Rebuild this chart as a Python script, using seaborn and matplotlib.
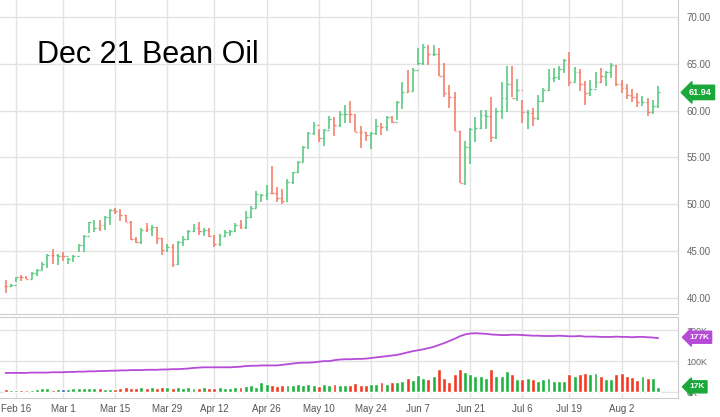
import numpy as np
import pandas as pd
import matplotlib
matplotlib.use("Agg")
import matplotlib.pyplot as plt
import seaborn as sns

# === Data ===
holidays = ["2021-02-15", "2021-04-02", "2021-05-31", "2021-07-05"]
dates = pd.bdate_range("2021-02-11", "2021-08-11").drop(pd.to_datetime(holidays))

close = [41.3, 41.4, 42.2, 42.2, 42.0, 42.7, 43.0, 43.6, 44.6, 44.6, 44.5,
         44.5, 44.2, 44.5, 45.7, 46.6, 48.1, 47.5, 47.8, 48.6, 49.4,
         49.3, 48.9, 48.1, 46.3, 46.0, 47.3, 47.4, 47.6, 46.4, 45.1,
         45.4, 43.6, 46.0, 46.3, 47.2, 47.5, 47.2, 47.3, 46.6, 45.8,
         46.6, 47.0, 47.2, 47.8, 47.6, 48.6, 49.6, 51.1, 51.0, 51.2,
         51.2, 50.7, 50.4, 52.4, 53.4, 54.5, 56.1, 57.6, 58.5, 57.1,
         57.9, 59.1, 58.5, 59.6, 59.6, 59.6, 57.7, 57.7, 57.4, 57.6,
         58.4, 58.2, 59.3, 58.8, 60.9, 62.0, 62.1, 64.3, 65.1, 66.8,
         66.0, 66.0, 63.7, 61.9, 61.4, 57.8, 52.3, 56.1, 58.0, 58.1,
         59.5, 59.4, 57.2, 60.0, 61.3, 62.8, 61.3, 62.2, 59.9, 59.7,
         59.2, 61.0, 62.2, 63.5, 63.6, 64.4, 65.4, 63.0, 64.1, 62.8,
         61.9, 62.3, 63.1, 63.7, 64.1, 64.9, 62.8, 62.4, 61.7, 61.5,
         60.9, 60.9, 59.9, 60.5, 61.94]
high = [41.9, 41.5, 42.2, 42.5, 42.4, 42.8, 43.1, 43.9, 44.7, 45.2, 44.7,
        44.9, 44.3, 44.6, 45.8, 46.7, 48.1, 48.3, 48.3, 48.8, 49.5,
        49.6, 49.5, 48.9, 48.2, 46.5, 47.5, 48.0, 47.8, 47.6, 46.4,
        45.8, 45.8, 46.1, 46.6, 47.3, 47.9, 48.1, 47.5, 47.5, 46.7,
        46.8, 47.3, 47.3, 48.0, 48.3, 49.3, 49.8, 51.4, 51.1, 52.1,
        54.1, 51.9, 51.6, 52.7, 53.5, 54.6, 56.2, 57.7, 58.8, 58.0,
        58.0, 59.4, 59.3, 60.0, 60.6, 61.0, 59.6, 58.4, 57.7, 57.7,
        59.1, 58.7, 59.4, 59.4, 61.0, 63.0, 64.3, 64.5, 66.7, 67.1,
        67.0, 67.0, 66.7, 65.1, 62.7, 62.0, 57.8, 56.8, 58.1, 59.3,
        60.1, 60.1, 61.4, 60.3, 63.0, 64.8, 64.8, 63.4, 61.1, 60.1,
        60.3, 61.7, 62.4, 64.4, 64.5, 64.8, 65.5, 66.3, 64.7, 64.4,
        63.2, 63.3, 64.1, 64.5, 64.2, 65.1, 64.9, 63.3, 62.8, 62.3,
        61.9, 61.6, 61.3, 61.1, 62.6]
low = [40.5, 41.2, 41.7, 41.8, 42.0, 42.0, 42.4, 43.0, 43.2, 43.6, 43.5,
       44.0, 43.6, 43.8, 44.9, 44.9, 46.9, 47.1, 47.2, 47.3, 47.8,
       49.0, 48.2, 48.1, 46.2, 45.9, 45.8, 47.0, 46.6, 45.8, 44.6,
       44.9, 43.3, 43.5, 45.6, 46.2, 47.0, 46.7, 46.6, 46.5, 45.5,
       45.6, 46.5, 46.6, 47.0, 47.4, 47.4, 48.5, 49.6, 50.2, 50.5,
       51.1, 50.2, 50.0, 50.2, 52.2, 53.3, 54.5, 55.9, 57.4, 56.6,
       56.2, 58.0, 57.3, 58.2, 58.7, 58.7, 57.7, 56.0, 56.8, 55.9,
       57.4, 57.4, 57.8, 58.7, 59.0, 60.2, 62.0, 62.1, 64.9, 64.9,
       64.9, 65.8, 63.7, 61.5, 60.3, 57.8, 52.3, 52.1, 54.3, 56.7,
       58.0, 58.0, 56.7, 57.0, 59.1, 59.9, 61.4, 61.0, 58.7, 58.0,
       58.4, 59.0, 60.9, 62.1, 63.0, 63.3, 64.0, 62.6, 63.0, 62.1,
       60.6, 61.6, 62.4, 62.9, 62.6, 63.5, 62.6, 61.9, 61.2, 60.9,
       60.4, 60.5, 59.4, 59.6, 60.3]
# G = up day, R = down day
direction = list("RGGRRGGGGRGRGGGGGGRGGRRRRRGRGRRGRGGGGRGRRGGGGRGGGGGRRRGGGGGGR"
                 "GGRGGRRRRGGRGRGGRGGGRGRRRRRGGGGGRGGGRGRGRGGGGGGRGRRGGRGGRRRRRGRGG")
# volume bar colours: first 79 days follow the price bars (one blue bar), then as read
vol_dir_late = list("GGRGRRRRRGGGGGRGGGRGRGRGGGGGGRGRRGGRGGRRRRRGRGG")
vol_dir = direction[:79] + vol_dir_late
vol_dir[11] = "B"
volume = [10, 7, 6, 6, 7, 8, 10, 12, 12, 8, 9,
          9, 10, 14, 14, 14, 14, 13, 12, 10, 10,
          11, 12, 16, 12, 14, 16, 13, 17, 12, 16,
          15, 13, 15, 12, 15, 14, 13, 16, 14, 13,
          15, 14, 13, 15, 18, 20, 22, 18, 34, 26,
          24, 20, 22, 24, 24, 26, 22, 27, 22, 20,
          26, 24, 25, 23, 22, 24, 30, 24, 24, 26,
          27, 32, 27, 32, 34, 36, 44, 38,
          55, 47, 41, 53, 74, 46, 31, 57, 74, 64,
          59, 53, 53, 46, 76, 53, 53, 68, 58, 42,
          42, 47, 42, 37, 42, 47, 37, 37, 37, 58,
          53, 58, 62, 58, 60, 53, 41, 41, 58, 60,
          53, 49, 39, 52, 47, 44, 16]
open_interest = [62, 62, 62, 62, 62, 63, 63, 63, 63, 64, 64,
                 64, 65, 65, 66, 66, 67, 67, 68, 68, 69,
                 69, 70, 70, 71, 71, 71, 72, 72, 72, 73,
                 73, 74, 74, 75, 76, 78, 79, 80, 80, 80,
                 80, 80, 80, 81, 82, 84, 85, 85, 86, 86,
                 86, 86, 88, 90, 92, 94, 95, 95, 96, 98,
                 100, 100, 103, 105, 106, 106, 107, 107, 108, 110,
                 112, 114, 116, 118, 120, 124, 128, 132, 135, 138,
                 142, 146, 152, 158, 165, 172, 180, 186, 189, 190,
                 189, 188, 186, 185, 184, 184, 185, 185, 184, 183,
                 182, 182, 181, 181, 181, 182, 181, 180, 180, 181,
                 179, 179, 179, 178, 178, 178, 179, 178, 178, 177,
                 178, 178, 177, 176, 174]
tick_dates = ["2021-02-16", "2021-03-01", "2021-03-15", "2021-03-29", "2021-04-12",
              "2021-04-26", "2021-05-10", "2021-05-24", "2021-06-07", "2021-06-21",
              "2021-07-06", "2021-07-19", "2021-08-02"]
tick_labels = ["Feb 16", "Mar 1", "Mar 15", "Mar 29", "Apr 12", "Apr 26", "May 10",
               "May 24", "Jun 7", "Jun 21", "Jul 6", "Jul 19", "Aug 2"]

df = pd.DataFrame({"date": dates, "close": close, "high": high, "low": low,
                   "dir": direction, "vdir": vol_dir, "volume": volume,
                   "oi": open_interest})
df["i"] = np.arange(len(df))
df["open"] = df["close"].shift(1).fillna(df["close"])
tick_pos = [df.index[df["date"] == pd.Timestamp(d)][0] for d in tick_dates]

# === Style ===
sns.set_style("white")
plt.rcParams["font.family"] = ["Liberation Sans", "DejaVu Sans"]
GRID = "#e3e3e3"
up_c, dn_c = "#5cc983", "#f3806e"
vcol = {"G": "#1fb340", "R": "#f23a22", "B": "#3050d0"}

fig = plt.figure(figsize=(7.2, 4.17), dpi=100)
ax = fig.add_axes([0, 0.247, 678 / 720, 0.753])
axv = fig.add_axes([0, 0.0456, 678 / 720, 0.194])
xlim = (-1.07, 128.8)

# === Price panel (OHLC bars) ===
colors = [up_c if d == "G" else dn_c for d in df["dir"]]
ax.vlines(df["i"], df["low"], df["high"], colors=colors, lw=1.2)
ax.hlines(df["open"], df["i"] - 0.35, df["i"], colors=colors, lw=1)
ax.hlines(df["close"], df["i"], df["i"] + 0.35, colors=colors, lw=1)
ax.set_xlim(*xlim)
ax.set_ylim(38.3, 71.8)
ax.set_yticks([40, 45, 50, 55, 60, 65, 70])
ax.set_xticks(tick_pos)
ax.set_xticklabels([])
ax.yaxis.tick_right()
ax.yaxis.set_major_formatter(matplotlib.ticker.FormatStrFormatter("%.2f"))
ax.tick_params(axis="y", length=0, pad=6, labelsize=7, labelcolor="#666666")
ax.tick_params(axis="x", length=0)
ax.grid(True, color=GRID, lw=1)
for s in ax.spines.values():
    s.set_color("#cccccc")
ax.spines["left"].set_visible(False)
ax.spines["top"].set_visible(False)

ax.text(0.055, 0.825, "Dec 21 Bean Oil", transform=ax.transAxes, fontsize=22,
        color="black", va="center")
ax.annotate(f"{close[-1]:.2f}", xy=(1.0, close[-1]), xycoords=("axes fraction", "data"),
            xytext=(8, 0), textcoords="offset points", va="center", ha="left",
            fontsize=6.5, color="white", fontweight="bold", annotation_clip=False,
            bbox=dict(boxstyle="larrow,pad=0.3", fc="#1aa83a", ec="#1aa83a"))

# === Volume / open interest panel ===
axv.bar(df["i"], df["volume"], width=0.75, color=[vcol[d] for d in df["vdir"]])
sns.lineplot(data=df, x="i", y="oi", ax=axv, color="#b54bd6", lw=1.3)
axv.set_xlim(*xlim)
axv.set_ylim(-19, 242)
axv.set_yticks([0, 100, 200])
axv.set_yticklabels(["0K", "100K", "200K"])
axv.yaxis.tick_right()
axv.tick_params(axis="y", length=0, pad=6, labelsize=6.5, labelcolor="#666666")
axv.set_xticks(tick_pos)
axv.set_xticklabels(tick_labels)
axv.tick_params(axis="x", length=0, pad=4, labelsize=7, labelcolor="#555555")
axv.set_xlabel("")
axv.set_ylabel("")
axv.grid(True, color=GRID, lw=1)
for s in axv.spines.values():
    s.set_color("#cccccc")
axv.spines["left"].set_visible(False)

for label, yv, fc in [("177K", 177, "#b54bd6"), ("17K", 17, "#1aa83a")]:
    axv.annotate(label, xy=(1.0, yv), xycoords=("axes fraction", "data"),
                 xytext=(8, 0), textcoords="offset points", va="center", ha="left",
                 fontsize=6, color="white", fontweight="bold", annotation_clip=False,
                 zorder=10,
                 bbox=dict(boxstyle="larrow,pad=0.3", fc=fc, ec=fc))

fig.savefig("out.png", dpi=100)
